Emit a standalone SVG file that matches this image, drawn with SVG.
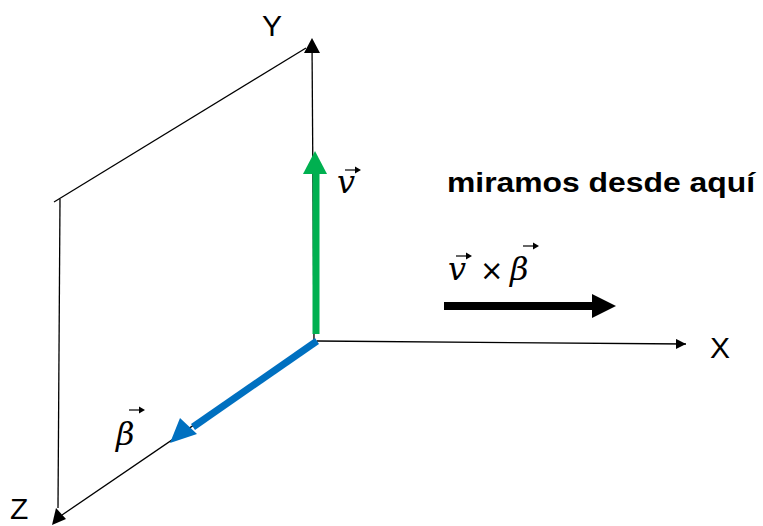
<svg xmlns="http://www.w3.org/2000/svg" width="763" height="526" viewBox="0 0 763 526">
<style>
.ax{stroke:#000;stroke-width:1.3;fill:none}
.lbl{font-family:"Liberation Sans",Arial,sans-serif;font-size:30px;fill:#000}
.mth{font-family:"DejaVu Serif","Liberation Serif",serif;font-style:italic;font-size:32px;fill:#000}
.vec{stroke:#000;stroke-width:1.2;fill:none}
.vh{fill:#000}
</style>
<defs>
<marker id="tri" viewBox="0 0 10 10" refX="10" refY="5" markerWidth="10" markerHeight="10" markerUnits="userSpaceOnUse" orient="auto"><path d="M0,0 L10,5 L0,10 Z" fill="#000"/></marker>
</defs>
<rect width="763" height="526" fill="#fff"/>
<g id="connectors">
<line class="ax" x1="317" y1="341" x2="686" y2="344" marker-end="url(#tri)"/>
<path class="ax" d="M314,341 L312,42"/>
<path d="M312,38 L304,53 L320,53 Z" fill="#000"/>
<line class="ax" x1="306" y1="48" x2="54" y2="202"/>
<line class="ax" x1="60" y1="199" x2="58" y2="508"/>
<line class="ax" x1="317" y1="341" x2="62" y2="515"/>
<path d="M52,525 L56,508 L66,519 Z" fill="#000"/>
</g>
<g id="green-v">
<line x1="316" y1="334" x2="316" y2="170" stroke="#00B050" stroke-width="7"/>
<path d="M315,151 L303,174 L327,174 Z" fill="#00B050"/>
</g>
<g id="blue-beta">
<line x1="317" y1="341" x2="193" y2="427" stroke="#0070C0" stroke-width="7"/>
<path d="M170,443 L180,418 L197,434 Z" fill="#0070C0"/>
</g>
<g id="black-arrow">
<line x1="444" y1="306" x2="594" y2="306" stroke="#000" stroke-width="8"/>
<path d="M616,306 L592,294 L592,318 Z" fill="#000"/>
</g>
<g id="labels">
<text class="lbl" x="262" y="36">Y</text>
<text class="lbl" x="710" y="358">X</text>
<text class="lbl" x="10" y="519">Z</text>
<text x="447" y="192" font-family="Liberation Sans,Arial,sans-serif" font-weight="bold" font-size="28" textLength="308" lengthAdjust="spacingAndGlyphs">miramos desde aquí</text>
<text class="mth" x="337" y="193">v</text>
<path class="vec" d="M345,170 L358,170"/><path class="vh" d="M361,170 L355,166.5 L355,173.5 Z"/>
<text class="mth" x="116" y="445">β</text>
<path class="vec" d="M129,410 L142,410"/><path class="vh" d="M145,410 L139,406.5 L139,413.5 Z"/>
<text class="mth" x="448" y="280">v</text>
<path class="vec" d="M456,256 L469,256"/><path class="vh" d="M472,256 L466,252.5 L466,259.5 Z"/>
<text x="480" y="280" font-family="DejaVu Sans,sans-serif" font-size="28">×</text>
<text class="mth" x="510" y="280">β</text>
<path class="vec" d="M523,246 L536,246"/><path class="vh" d="M539,246 L533,242.5 L533,249.5 Z"/>
</g>
</svg>
